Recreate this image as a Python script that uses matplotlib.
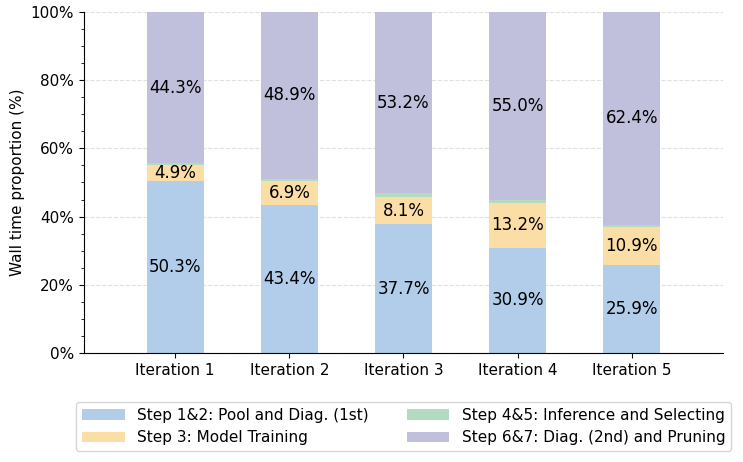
import numpy as np
import matplotlib
matplotlib.use("Agg")
import matplotlib.pyplot as plt
import matplotlib.ticker as mticker

iterations = ["Iteration 1", "Iteration 2", "Iteration 3", "Iteration 4", "Iteration 5"]
step12 = [50.3, 43.4, 37.7, 30.9, 25.9]
step3 = [4.9, 6.9, 8.1, 13.2, 10.9]
step45 = [0.5, 0.8, 1.0, 0.9, 0.8]
step67 = [44.3, 48.9, 53.2, 55.0, 62.4]

labels = ["Step 1&2: Pool and Diag. (1st)", "Step 3: Model Training",
          "Step 4&5: Inference and Selecting", "Step 6&7: Diag. (2nd) and Pruning"]
colors = ["#b1cdea", "#fbdea6", "#b3dbbf", "#c0c0dd"]
show_label = [True, True, False, True]

fig = plt.figure(figsize=(7.43, 4.62), dpi=100)
ax = fig.add_axes([0.113, 0.236, 0.86, 0.738])

x = np.arange(len(iterations))
bottom = np.zeros(len(iterations))
for vals, lab, col, show in zip([step12, step3, step45, step67], labels, colors, show_label):
    vals = np.array(vals)
    ax.bar(x, vals, 0.5, bottom=bottom, color=col, label=lab, zorder=2)
    if show:
        for xi, b, v in zip(x, bottom, vals):
            ax.text(xi, b + v / 2, f"{v:.1f}%", ha="center", va="center", fontsize=12, zorder=3)
    bottom += vals

ax.set_xlim(-0.8, 4.8)
ax.set_ylim(0, 100)
ax.set_xticks(x)
ax.set_xticklabels(iterations, fontsize=11)
ax.yaxis.set_major_locator(mticker.MultipleLocator(20))
ax.yaxis.set_minor_locator(mticker.MultipleLocator(5))
ax.yaxis.set_major_formatter(mticker.FuncFormatter(lambda v, p: f"{v:.0f}%"))
ax.tick_params(axis="y", labelsize=11)
ax.set_ylabel("Wall time proportion (%)", fontsize=11)
ax.grid(axis="y", linestyle="--", color="#e0e0e0", linewidth=0.8, zorder=0)
ax.spines["top"].set_visible(False)
ax.spines["right"].set_visible(False)

ax.legend(loc="upper center", bbox_to_anchor=(0.5, -0.12), ncol=2, fontsize=11,
          handlelength=2.8, columnspacing=2.5, frameon=True)

fig.savefig("out.png", dpi=100)
